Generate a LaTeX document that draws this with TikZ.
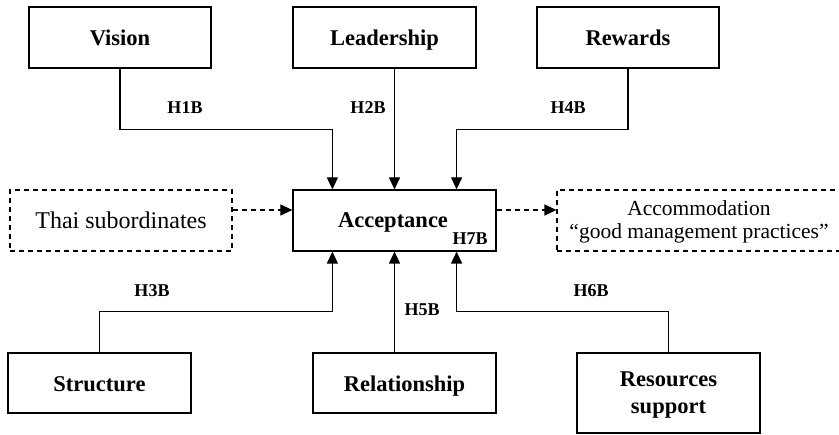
\documentclass[tikz,border=0pt]{standalone}
\usepackage{fontspec}
\setmainfont{Liberation Serif}
\usetikzlibrary{arrows.meta}
\begin{document}
\begin{tikzpicture}[x=1pt,y=-1pt,
  boldtext/.style={font=\fontsize{22.5}{26.5}\selectfont\bfseries,inner sep=0pt,align=center},
  oneline/.style={text height=20pt,text depth=3pt},
  box/.style={draw,line width=1.2pt,rectangle,minimum height=61pt,inner sep=0pt},
  dbox/.style={draw,line width=1.1pt,dash pattern=on 5pt off 4pt,rectangle,minimum height=61pt,
    inner sep=0pt},
  arr/.style={line width=1.2pt,-{Triangle[width=11pt,length=12pt]}},
  darr/.style={line width=1.1pt,dash pattern=on 5pt off 4pt,-{Triangle[width=11pt,length=12pt]}},
  hlab/.style={font=\fontsize{18}{20}\selectfont\bfseries,inner sep=0pt}]
\useasboundingbox (0,0) rectangle (839,435);
% drivers above
\node[box,boldtext,oneline,minimum width=182pt] (vision) at (120,37.5) {Vision};
\node[box,boldtext,oneline,minimum width=183pt] (leadership) at (384.5,37.5) {Leadership};
\node[box,boldtext,oneline,minimum width=182pt] (rewards) at (628,37.5) {Rewards};
% centre row
\node[box,minimum width=203pt] (accept) at (394.5,220.5) {};
\node[boldtext,oneline] (accepttext) at (393,219) {Acceptance};
\node[dbox,oneline,minimum width=222pt,font=\fontsize{24}{26}\selectfont] (thai) at (121,220.5) {Thai subordinates};
\node[dbox,minimum width=284pt] (accom) at (699,220.5) {};
\node[inner sep=0pt,align=center,font=\fontsize{21.5}{23}\selectfont] (accomtext) at (699,221.5)
  {Accommodation\\``good management practices''};
% drivers below
\node[box,boldtext,oneline,minimum width=183pt,minimum height=60pt] (structure) at (99.5,383) {Structure};
\node[box,boldtext,oneline,minimum width=183pt,minimum height=60pt] (relation) at (404.5,383) {Relationship};
\node[box,minimum width=183pt,minimum height=80pt] (resources) at (668.5,393) {};
\node[boldtext] (resourcestext) at (668.5,395) {Resources\\support};
% connectors into Acceptance
\draw[arr] (vision.south) -- ++(0,61) -| ([xshift=40pt]accept.north west);
\draw[arr] (leadership.south -| accept.north) -- (accept.north);
\draw[arr] (rewards.south) -- ++(0,61) -| ([xshift=-40pt]accept.north east);
\draw[arr] (structure.north) -- ++(0,-41) -| ([xshift=40pt]accept.south west);
\draw[arr] (relation.north -| accept.south) -- (accept.south);
\draw[arr] (resources.north) -- ++(0,-41) -| ([xshift=-40pt]accept.south east);
\draw[darr] ([yshift=10.5pt]thai.east) -- ([yshift=10.5pt]accept.west);
\draw[darr] ([yshift=10.5pt]accept.east) -- ([yshift=10.5pt]accom.west);
% hypothesis labels
\node[hlab] (h1) at (185,108) {H1B};
\node[hlab] (h2) at (368,108) {H2B};
\node[hlab] (h4) at (568,108) {H4B};
\node[hlab] (h3) at (152,291) {H3B};
\node[hlab] (h5) at (422,310) {H5B};
\node[hlab] (h6) at (591,291) {H6B};
\node[hlab] (h7) at (470,239) {H7B};
\end{tikzpicture}
\end{document}
